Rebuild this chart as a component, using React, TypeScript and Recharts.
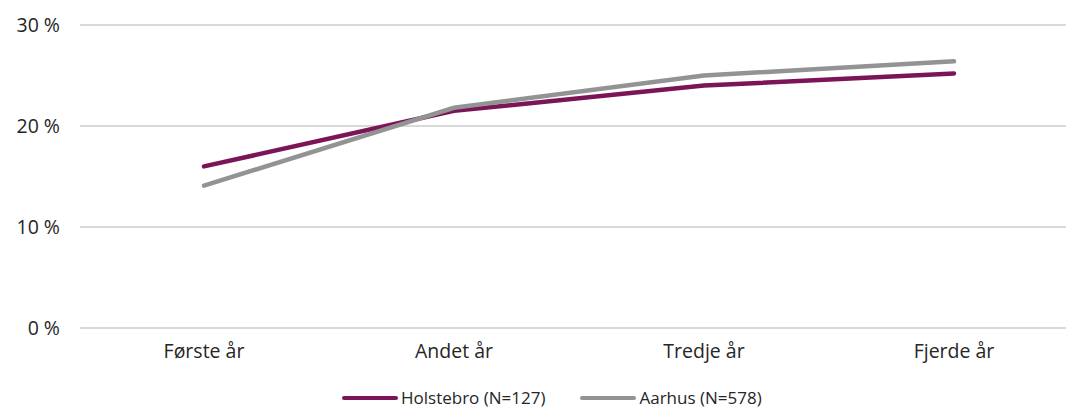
import { LineChart, Line, XAxis, YAxis, CartesianGrid, Legend } from "recharts";

const years = ["Første år", "Andet år", "Tredje år", "Fjerde år"];
const holstebro = [16.0, 21.5, 24.0, 25.2];
const aarhus = [14.1, 21.8, 25.0, 26.4];
const yTicks = [0, 10, 20, 30];

const seriesInfo = [
  { key: "holstebro", name: "Holstebro (N=127)", color: "#7b1557" },
  { key: "aarhus", name: "Aarhus (N=578)", color: "#939393" },
];

const chartData = years.map((year, i) => ({
  year,
  holstebro: holstebro[i],
  aarhus: aarhus[i],
}));

const font = "'Open Sans', 'Noto Sans', sans-serif";

function LegendContent() {
  return (
    <div style={{ display: "flex", paddingLeft: 342, paddingTop: 11, fontFamily: font, fontSize: 17, color: "#262626", lineHeight: "18px" }}>
      {seriesInfo.map((s, i) => (
        <div key={s.key} style={{ display: "flex", alignItems: "center", marginRight: i === 0 ? 35 : 0 }}>
          <div style={{ width: 56, height: 4, borderRadius: 2, background: s.color, marginRight: 3 }} />
          <span>{s.name}</span>
        </div>
      ))}
    </div>
  );
}

export default function App() {
  return (
    <div style={{ position: "absolute", left: 0, top: 0, width: 1066, height: 410, overflow: "hidden", background: "#fff" }}>
      <LineChart width={1080} height={410} data={chartData} margin={{ top: 25, right: 1, bottom: 0, left: 0 }}>
        <CartesianGrid vertical={false} stroke="#d9d9d9" strokeWidth={2} />
        <XAxis
          dataKey="year"
          height={50}
          padding={{ left: 124, right: 125 }}
          tickLine={false}
          axisLine={false}
          tickSize={0}
          tickMargin={16}
          tick={{ fontSize: 19.5, fill: "#262626", fontFamily: font }}
        />
        <YAxis
          domain={[0, 30]}
          ticks={yTicks}
          width={80}
          tickLine={false}
          axisLine={false}
          tickSize={0}
          tickMargin={20}
          tickFormatter={(v) => `${v} %`}
          tick={{ fontSize: 19.5, fill: "#262626", fontFamily: font }}
        />
        <Legend verticalAlign="bottom" height={32} wrapperStyle={{ left: 0, width: 1080 }} content={<LegendContent />} />
        {seriesInfo.map((s) => (
          <Line
            key={s.key}
            dataKey={s.key}
            name={s.name}
            stroke={s.color}
            strokeWidth={4.5}
            strokeLinecap="round"
            dot={false}
            activeDot={false}
            isAnimationActive={false}
          />
        ))}
      </LineChart>
    </div>
  );
}
